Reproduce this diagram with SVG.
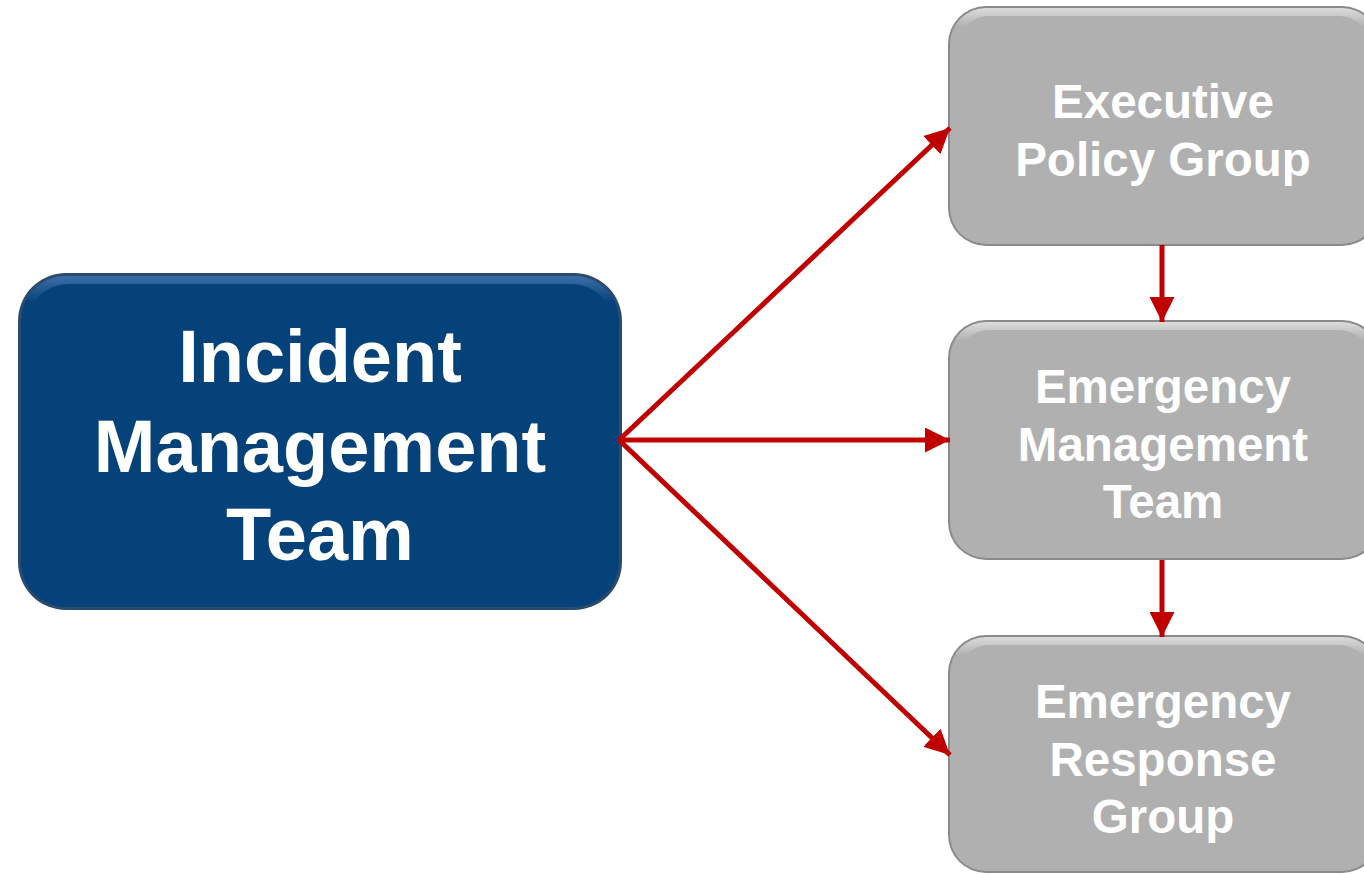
<svg xmlns="http://www.w3.org/2000/svg" width="1364" height="875" viewBox="0 0 1364 875">
<defs>
<style>
.lbl{font-family:"Liberation Sans",Arial,sans-serif;font-weight:bold;fill:#ffffff;text-anchor:middle}
.big{font-size:74px}
.sm{font-size:47.5px}
.conn{stroke:#C00000;stroke-width:5;fill:none}
</style>
<marker id="ah" viewBox="0 0 10 10" refX="10" refY="5" markerWidth="5" markerHeight="5" orient="auto" markerUnits="strokeWidth">
<path d="M0,0 L10,5 L0,10 z" fill="#C00000"/>
</marker>
<linearGradient id="gblue" x1="0" y1="0" x2="0" y2="1">
<stop offset="0" stop-color="#3C6EA6"/>
<stop offset="0.08" stop-color="#06427A"/>
<stop offset="1" stop-color="#06427A"/>
</linearGradient>
<linearGradient id="ggray" x1="0" y1="0" x2="0" y2="1">
<stop offset="0" stop-color="#DCDCDC"/>
<stop offset="0.08" stop-color="#B0B0B0"/>
<stop offset="1" stop-color="#B0B0B0"/>
</linearGradient>
</defs>
<rect width="1364" height="875" fill="#ffffff"/>
<g id="imt">
<rect x="18" y="273" width="604" height="337" rx="48" fill="#2A4A6E"/>
<rect x="21" y="276" width="598" height="331" rx="45" fill="url(#gblue)"/>
<rect x="28" y="284" width="584" height="318" rx="40" fill="#06427A"/>
<text class="lbl big" x="320" y="382">Incident</text>
<text class="lbl big" x="320" y="472">Management</text>
<text class="lbl big" x="320" y="560">Team</text>
</g>
<g id="epg">
<rect x="948" y="6" width="432" height="240" rx="38" fill="#8A8A8A"/>
<rect x="950" y="8" width="428" height="236" rx="36" fill="url(#ggray)"/>
<rect x="957" y="16" width="414" height="222" rx="32" fill="#B0B0B0"/>
<text class="lbl sm" x="1163" y="118">Executive</text>
<text class="lbl sm" x="1163" y="176">Policy Group</text>
</g>
<g id="emt">
<rect x="948" y="320" width="432" height="240" rx="38" fill="#8A8A8A"/>
<rect x="950" y="322" width="428" height="236" rx="36" fill="url(#ggray)"/>
<rect x="957" y="330" width="414" height="222" rx="32" fill="#B0B0B0"/>
<text class="lbl sm" x="1163" y="403">Emergency</text>
<text class="lbl sm" x="1163" y="461">Management</text>
<text class="lbl sm" x="1163" y="518">Team</text>
</g>
<g id="erg">
<rect x="948" y="635" width="432" height="238" rx="38" fill="#8A8A8A"/>
<rect x="950" y="637" width="428" height="234" rx="36" fill="url(#ggray)"/>
<rect x="957" y="645" width="414" height="220" rx="32" fill="#B0B0B0"/>
<text class="lbl sm" x="1163" y="718">Emergency</text>
<text class="lbl sm" x="1163" y="776">Response</text>
<text class="lbl sm" x="1163" y="833">Group</text>
</g>
<g id="connectors">
<line class="conn" x1="619" y1="440" x2="950" y2="128" marker-end="url(#ah)"/>
<line class="conn" x1="619" y1="440" x2="950" y2="440" marker-end="url(#ah)"/>
<line class="conn" x1="619" y1="440" x2="950" y2="755" marker-end="url(#ah)"/>
<line class="conn" x1="1162" y1="245" x2="1162" y2="322" marker-end="url(#ah)"/>
<line class="conn" x1="1162" y1="560" x2="1162" y2="637" marker-end="url(#ah)"/>
</g>
</svg>
